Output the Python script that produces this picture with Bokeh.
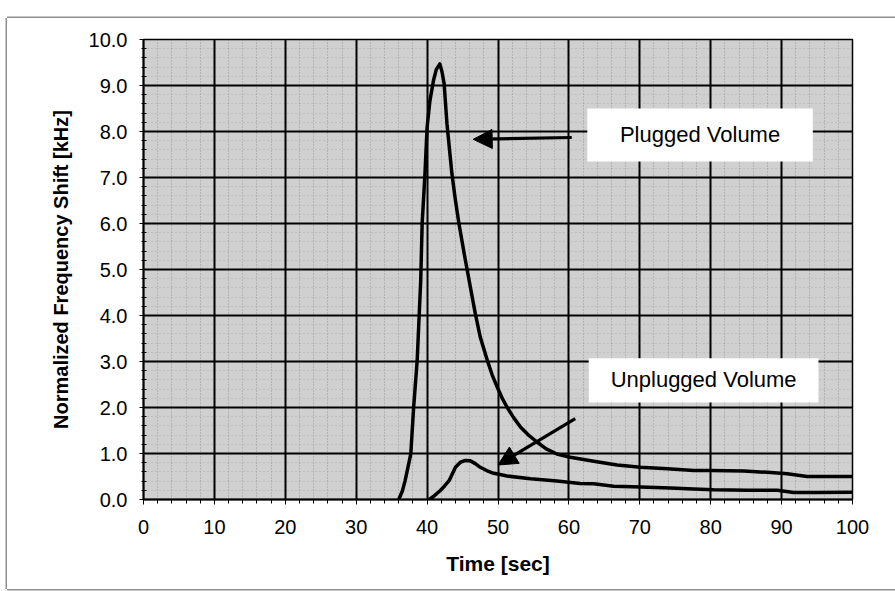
from bokeh.plotting import figure
from bokeh.models import (Range1d, SingleIntervalTicker, NumeralTickFormatter,
                          BoxAnnotation, Label, Arrow, NormalHead)
from bokeh.embed import file_html
from bokeh.resources import INLINE

# Frequency-shift traces (time in s, shift in kHz)
plugged_t = [36.0, 36.5, 36.9, 37.3, 37.7, 38.1, 38.6, 39.1, 39.3, 39.7, 40.0, 40.4,
             40.9, 41.3, 41.8, 42.1, 42.4, 42.8, 43.5, 44.0, 44.5, 45.4, 46.1, 46.8,
             47.5, 48.5, 49.2, 49.9, 50.6, 51.3, 52.2, 53.2, 54.3, 55.5, 56.8, 58.3,
             60.2, 63.5, 66.8, 70.1, 73.9, 77.6, 80.0, 84.7, 88.0, 90.8, 93.6, 96.4,
             100.0]
plugged_v = [0.0, 0.18, 0.41, 0.70, 0.99, 2.0, 3.02, 4.76, 5.99, 7.08, 8.09, 8.67,
             9.11, 9.35, 9.47, 9.30, 9.04, 8.17, 7.08, 6.50, 5.99, 5.20, 4.62, 4.04,
             3.53, 3.02, 2.70, 2.44, 2.20, 2.00, 1.78, 1.57, 1.40, 1.25, 1.10, 0.99,
             0.92, 0.83, 0.75, 0.70, 0.67, 0.63, 0.63, 0.62, 0.59, 0.56, 0.50, 0.50,
             0.50]

unplugged_t = [40.3, 41.0, 41.9, 42.5, 43.1, 43.6, 44.0, 44.7, 45.4, 46.1, 46.8, 47.5,
               48.4, 49.4, 51.3, 54.6, 58.3, 61.6, 63.5, 66.3, 70.1, 74.3, 77.6, 80.4,
               85.1, 89.4, 91.7, 95.0, 100.0]
unplugged_v = [0.0, 0.08, 0.20, 0.30, 0.41, 0.57, 0.70, 0.81, 0.85, 0.84, 0.78, 0.70,
               0.63, 0.57, 0.51, 0.45, 0.40, 0.35, 0.34, 0.29, 0.27, 0.25, 0.23, 0.21,
               0.20, 0.20, 0.15, 0.15, 0.16]

labels = ["Plugged Volume", "Unplugged Volume"]

FONT = "Liberation Sans"

# page frame drawn on the left, top and bottom edges only
frame_css = ("-1.5px 0 0 0 #909090, 0 -1.5px 0 0 #909090, "
             "0 1.5px 0 0 #909090")

p = figure(width=888, height=571, output_backend="svg", toolbar_location=None,
           x_range=Range1d(0, 100), y_range=Range1d(0, 10),
           min_border_left=136, min_border_right=43, min_border_top=21,
           min_border_bottom=90, margin=(18, 0, 2, 7),
           styles={"box-shadow": frame_css})

p.background_fill_color = "#d0d0d0"
p.border_fill_color = "white"
p.outline_line_color = "black"
p.outline_line_width = 1.5

# axes
p.xaxis.ticker = SingleIntervalTicker(interval=10, num_minor_ticks=5)
p.yaxis.ticker = SingleIntervalTicker(interval=1, num_minor_ticks=5)
p.yaxis.formatter = NumeralTickFormatter(format="0.0")
for ax in (p.xaxis[0], p.yaxis[0]):
    ax.axis_line_color = "black"
    ax.axis_line_width = 2
    ax.major_tick_line_color = "black"
    ax.minor_tick_line_color = "black"
    ax.major_label_text_font = FONT
    ax.major_label_text_font_size = "20px"
    ax.major_label_text_color = "black"
    ax.axis_label_text_font = FONT
    ax.axis_label_text_font_style = "bold"
    ax.axis_label_text_color = "black"

p.xaxis.axis_label = "Time [sec]"
p.xaxis.axis_label_text_font_size = "21px"
p.xaxis.major_tick_out = 5
p.xaxis.major_tick_in = 0
p.xaxis.minor_tick_out = 4
p.xaxis.minor_tick_in = 0
p.xaxis.major_label_standoff = 15
p.xaxis.axis_label_standoff = 15

p.yaxis.axis_label = "Normalized Frequency Shift [kHz]"
p.yaxis.axis_label_text_font_size = "20px"
p.yaxis.major_tick_out = 4
p.yaxis.major_tick_in = 0
p.yaxis.minor_tick_out = 2
p.yaxis.minor_tick_in = 3
p.yaxis.major_label_standoff = 12
p.yaxis.axis_label_standoff = 14

# grid
p.xgrid.grid_line_color = "black"
p.ygrid.grid_line_color = "black"
p.xgrid.grid_line_width = 2
p.ygrid.grid_line_width = 2
p.xgrid.minor_grid_line_color = "#555555"
p.ygrid.minor_grid_line_color = "#666666"
p.xgrid.minor_grid_line_alpha = 0.45
p.ygrid.minor_grid_line_alpha = 0.3
p.xgrid.minor_grid_line_dash = "1 2"
p.ygrid.minor_grid_line_dash = "1 3"

# curves
p.line(plugged_t, plugged_v, line_color="black", line_width=3.5, line_join="round")
p.line(unplugged_t, unplugged_v, line_color="black", line_width=3.5, line_join="round")

# label boxes
p.add_layout(BoxAnnotation(left=62.6, right=94.4, bottom=7.35, top=8.5,
                           fill_color="white", fill_alpha=1, line_color=None))
p.add_layout(BoxAnnotation(left=62.8, right=95.2, bottom=2.11, top=3.07,
                           fill_color="white", fill_alpha=1, line_color=None))

p.add_layout(Label(x=78.5, y=7.93, text=labels[0], text_font=FONT,
                   text_font_size="22px", text_align="center",
                   text_baseline="middle", text_color="black"))
p.add_layout(Label(x=79.0, y=2.6, text=labels[1], text_font=FONT,
                   text_font_size="22px", text_align="center",
                   text_baseline="middle", text_color="black"))

# pointer arrows
p.add_layout(Arrow(end=NormalHead(size=19, fill_color="black", line_color="black"),
                   x_start=60.4, y_start=7.87, x_end=46.5, y_end=7.83,
                   line_color="black", line_width=3.2))
p.add_layout(Arrow(end=NormalHead(size=19, fill_color="black", line_color="black"),
                   x_start=60.9, y_start=1.76, x_end=50.0, y_end=0.75,
                   line_color="black", line_width=3.2))

open("out.html", "w").write(file_html(p, INLINE))
